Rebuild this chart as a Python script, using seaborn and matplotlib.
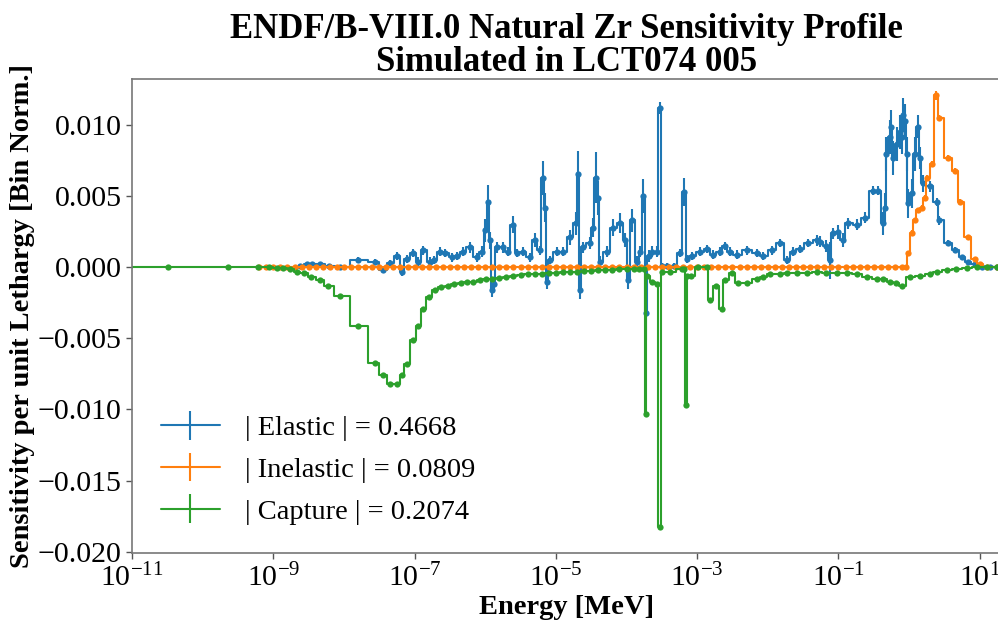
import numpy as np
import matplotlib
matplotlib.use("Agg")
import matplotlib.pyplot as plt
import seaborn as sns

# ---------------- data (energies stored as log10(E / MeV)) ----------------
elastic_log_e = [
    -8.62, -8.53, -8.45, -8.34, -8.21, -8.06, -7.80, -7.56, -7.45, -7.35,
    -7.25, -7.18, -7.11, -7.02, -6.95, -6.88, -6.78, -6.72, -6.64, -6.57,
    -6.47, -6.40, -6.32, -6.22, -6.12, -6.05, -6.00, -5.96, -5.93, -5.91,
    -5.88, -5.84, -5.75, -5.68, -5.61, -5.55, -5.47, -5.37, -5.30, -5.23,
    -5.18, -5.16, -5.13, -5.09, -4.99, -4.90, -4.80, -4.72, -4.69, -4.66,
    -4.62, -4.52, -4.48, -4.43, -4.41, -4.38, -4.28, -4.19, -4.09, -4.02,
    -3.98, -3.92, -3.85, -3.81, -3.76, -3.73, -3.68, -3.64, -3.57, -3.53,
    -3.50, -3.42, -3.33, -3.25, -3.18, -3.15, -3.08, -2.96, -2.86, -2.78,
    -2.68, -2.61, -2.54, -2.44, -2.30, -2.16, -2.07, -1.94, -1.83, -1.73,
    -1.65, -1.55, -1.43, -1.31, -1.26, -1.17, -1.12, -1.08, -1.01, -0.94,
    -0.87, -0.74, -0.63, -0.51, -0.44, -0.37, -0.34, -0.32, -0.27, -0.25,
    -0.23, -0.17, -0.13, -0.10, -0.09, -0.06, -0.03, -0.02, 0.04, 0.08,
    0.12, 0.15, 0.19, 0.29, 0.39, 0.43, 0.55, 0.65, 0.75, 0.83,
    0.93, 1.03, 1.14, 1.24, 1.32]
elastic_sens = [
    0.0001, 0.0002, 0.0002, 0.0002, 0.0001, 0.0000, 0.0005, 0.0004, -0.0002, 0.0003,
    0.0008, -0.0003, 0.0006, 0.0010, 0.0004, 0.0012, 0.0004, 0.0005, 0.0011, 0.0010,
    0.0007, 0.0008, 0.0011, 0.0014, 0.0007, 0.0011, 0.0026, 0.0046, 0.0019, -0.0016,
    -0.0012, 0.0014, 0.0014, 0.0011, 0.0030, 0.0010, 0.0011, 0.0007, 0.0019, 0.0012,
    0.0063, 0.0042, -0.0010, 0.0005, 0.0011, 0.0011, 0.0021, 0.0031, 0.0066, -0.0016,
    0.0014, 0.0017, 0.0028, 0.0063, 0.0049, 0.0004, 0.0011, 0.0028, 0.0031, 0.0019,
    -0.0009, 0.0033, 0.0004, 0.0011, 0.0050, -0.0032, 0.0008, 0.0011, 0.0011, 0.0112,
    0.0001, 0.0001, 0.0001, 0.0010, 0.0053, 0.0006, 0.0008, 0.0011, 0.0013, 0.0009,
    0.0011, 0.0015, 0.0011, 0.0009, 0.0012, 0.0010, 0.0008, 0.0012, 0.0017, 0.0005,
    0.0011, 0.0013, 0.0017, 0.0019, 0.0018, 0.0015, 0.0005, 0.0024, 0.0025, 0.0019,
    0.0031, 0.0030, 0.0035, 0.0054, 0.0054, 0.0031, 0.0042, 0.0080, 0.0092, 0.0099,
    0.0077, 0.0087, 0.0095, 0.0092, 0.0107, 0.0103, 0.0080, 0.0045, 0.0052, 0.0080,
    0.0099, 0.0077, 0.0059, 0.0057, 0.0046, 0.0033, 0.0017, 0.0012, 0.0007, 0.0004,
    0.0002, 0.0000, 0.0000, 0.0000, 0.0000]
elastic_err = [
    0.0001, 0.0001, 0.0001, 0.0001, 0.0001, 0.0001, 0.0002, 0.0002, 0.0002, 0.0002,
    0.0003, 0.0003, 0.0003, 0.0003, 0.0003, 0.0003, 0.0003, 0.0003, 0.0003, 0.0003,
    0.0003, 0.0003, 0.0003, 0.0004, 0.0003, 0.0004, 0.0008, 0.0012, 0.0006, 0.0005,
    0.0005, 0.0004, 0.0004, 0.0003, 0.0006, 0.0003, 0.0003, 0.0003, 0.0005, 0.0003,
    0.0012, 0.0010, 0.0005, 0.0003, 0.0003, 0.0003, 0.0005, 0.0008, 0.0016, 0.0006,
    0.0004, 0.0004, 0.0007, 0.0018, 0.0012, 0.0004, 0.0004, 0.0006, 0.0007, 0.0005,
    0.0006, 0.0008, 0.0004, 0.0004, 0.0012, 0.0019, 0.0004, 0.0004, 0.0004, 0.0004,
    0.0002, 0.0002, 0.0002, 0.0003, 0.0010, 0.0003, 0.0003, 0.0003, 0.0003, 0.0003,
    0.0003, 0.0003, 0.0003, 0.0003, 0.0003, 0.0003, 0.0003, 0.0003, 0.0003, 0.0003,
    0.0003, 0.0003, 0.0003, 0.0004, 0.0004, 0.0004, 0.0013, 0.0004, 0.0005, 0.0005,
    0.0004, 0.0004, 0.0004, 0.0003, 0.0003, 0.0008, 0.0010, 0.0012, 0.0012, 0.0012,
    0.0012, 0.0012, 0.0012, 0.0012, 0.0012, 0.0012, 0.0012, 0.0010, 0.0010, 0.0012,
    0.0008, 0.0008, 0.0006, 0.0004, 0.0003, 0.0003, 0.0002, 0.0002, 0.0001, 0.0001,
    0.0001, 0.0001, 0.0001, 0.0001, 0.0001]

inelastic_log_e = [
    -9.2, -9.1, -9.0, -8.9, -8.8, -8.7, -8.6, -8.5, -8.4, -8.3,
    -8.2, -8.1, -8.0, -7.9, -7.8, -7.7, -7.6, -7.5, -7.4, -7.3,
    -7.2, -7.1, -7.0, -6.9, -6.8, -6.7, -6.6, -6.5, -6.4, -6.3,
    -6.2, -6.1, -6.0, -5.9, -5.8, -5.7, -5.6, -5.5, -5.4, -5.3,
    -5.2, -5.1, -5.0, -4.9, -4.8, -4.7, -4.6, -4.5, -4.4, -4.3,
    -4.2, -4.1, -4.0, -3.9, -3.8, -3.7, -3.6, -3.5, -3.4, -3.3,
    -3.2, -3.1, -3.0, -2.9, -2.8, -2.7, -2.6, -2.5, -2.4, -2.3,
    -2.2, -2.1, -2.0, -1.9, -1.8, -1.7, -1.6, -1.5, -1.4, -1.3,
    -1.2, -1.1, -1.0, -0.9, -0.8, -0.7, -0.6, -0.5, -0.4, -0.3,
    -0.2, -0.1, -0.05,
    -0.02, 0.04, 0.08, 0.12, 0.18, 0.22, 0.26, 0.32, 0.38, 0.43,
    0.55, 0.65, 0.72, 0.83, 0.93, 1.00, 1.10, 1.24, 1.32]
inelastic_sens = [
    0.0, 0.0, 0.0, 0.0, 0.0, 0.0, 0.0, 0.0, 0.0, 0.0,
    0.0, 0.0, 0.0, 0.0, 0.0, 0.0, 0.0, 0.0, 0.0, 0.0,
    0.0, 0.0, 0.0, 0.0, 0.0, 0.0, 0.0, 0.0, 0.0, 0.0,
    0.0, 0.0, 0.0, 0.0, 0.0, 0.0, 0.0, 0.0, 0.0, 0.0,
    0.0, 0.0, 0.0, 0.0, 0.0, 0.0, 0.0, 0.0, 0.0, 0.0,
    0.0, 0.0, 0.0, 0.0, 0.0, 0.0, 0.0, 0.0, 0.0, 0.0,
    0.0, 0.0, 0.0, 0.0, 0.0, 0.0, 0.0, 0.0, 0.0, 0.0,
    0.0, 0.0, 0.0, 0.0, 0.0, 0.0, 0.0, 0.0, 0.0, 0.0,
    0.0, 0.0, 0.0, 0.0, 0.0, 0.0, 0.0, 0.0, 0.0, 0.0,
    0.0, 0.0, 0.0,
    0.0010, 0.0024, 0.0033, 0.0040, 0.0042, 0.0049, 0.0063, 0.0073, 0.0121, 0.0105,
    0.0077, 0.0068, 0.0046, 0.0021, 0.0006, 0.0002, 0.0, 0.0, 0.0]
inelastic_err = [
    0.00002, 0.00002, 0.00002, 0.00002, 0.00002, 0.00002, 0.00002, 0.00002, 0.00002, 0.00002,
    0.00002, 0.00002, 0.00002, 0.00002, 0.00002, 0.00002, 0.00002, 0.00002, 0.00002, 0.00002,
    0.00002, 0.00002, 0.00002, 0.00002, 0.00002, 0.00002, 0.00002, 0.00002, 0.00002, 0.00002,
    0.00002, 0.00002, 0.00002, 0.00002, 0.00002, 0.00002, 0.00002, 0.00002, 0.00002, 0.00002,
    0.00002, 0.00002, 0.00002, 0.00002, 0.00002, 0.00002, 0.00002, 0.00002, 0.00002, 0.00002,
    0.00002, 0.00002, 0.00002, 0.00002, 0.00002, 0.00002, 0.00002, 0.00002, 0.00002, 0.00002,
    0.00002, 0.00002, 0.00002, 0.00002, 0.00002, 0.00002, 0.00002, 0.00002, 0.00002, 0.00002,
    0.00002, 0.00002, 0.00002, 0.00002, 0.00002, 0.00002, 0.00002, 0.00002, 0.00002, 0.00002,
    0.00002, 0.00002, 0.00002, 0.00002, 0.00002, 0.00002, 0.00002, 0.00002, 0.00002, 0.00002,
    0.00002, 0.00002, 0.00002,
    0.0001, 0.0002, 0.0002, 0.0002, 0.0002, 0.0002, 0.0002, 0.0002, 0.0003, 0.0002,
    0.0002, 0.0002, 0.0002, 0.0001, 0.0001, 0.0001, 0.0, 0.0, 0.0]

capture_log_e = [
    -11.05, -10.49, -9.64, -9.22, -9.06, -8.95, -8.86, -8.76, -8.67, -8.57,
    -8.46, -8.34, -8.23, -8.06, -7.80, -7.56, -7.45, -7.35, -7.25, -7.18,
    -7.11, -7.02, -6.95, -6.88, -6.80, -6.71, -6.62, -6.53, -6.44, -6.35,
    -6.26, -6.17, -6.08, -5.99, -5.90, -5.80, -5.70, -5.60, -5.50, -5.40,
    -5.30, -5.20, -5.10, -5.00, -4.90, -4.80, -4.70, -4.60, -4.50, -4.40,
    -4.30, -4.20, -4.10, -4.00, -3.90, -3.82, -3.75, -3.73, -3.71, -3.64,
    -3.57, -3.53, -3.50, -3.39, -3.22, -3.18, -3.16, -3.14, -3.09, -2.99,
    -2.86, -2.82, -2.74, -2.65, -2.61, -2.50, -2.42, -2.30, -2.16, -2.07,
    -1.97, -1.83, -1.73, -1.59, -1.45, -1.31, -1.17, -1.02, -0.88, -0.74,
    -0.60, -0.46, -0.37, -0.27, -0.18, -0.10, 0.01, 0.15, 0.29, 0.39,
    0.53, 0.67, 0.82, 0.96, 1.10, 1.24, 1.32]
capture_sens = [
    0.0, 0.0, 0.0, 0.0, 0.0, -0.00002, -0.00005, -0.00014, -0.00035, -0.0004,
    -0.0007, -0.0009, -0.0013, -0.0020, -0.0041, -0.0067, -0.0076, -0.0082, -0.0082, -0.0076,
    -0.0068, -0.0051, -0.0041, -0.0029, -0.0021, -0.0016, -0.0014, -0.0013, -0.0012, -0.0011,
    -0.00105, -0.0010, -0.0009, -0.00085, -0.0008, -0.00075, -0.0007, -0.00062, -0.00056, -0.0005,
    -0.00047, -0.00044, -0.0004, -0.00037, -0.00035, -0.00032, -0.0003, -0.00027, -0.00024, -0.0002,
    -0.00018, -0.00016, -0.00014, -0.00012, -0.00011, -0.0001, -0.0001, -0.0103, -0.0006, -0.0010,
    -0.0012, -0.0183, -0.0003, -0.0003, -0.0001, -0.0001, -0.0097, -0.0006, -0.0006, 0.0,
    0.0, -0.0023, -0.0013, -0.0029, -0.0009, -0.0004, -0.0011, -0.0011, -0.0008, -0.0007,
    -0.0005, -0.0005, -0.0004, -0.0004, -0.0004, -0.0003, -0.0004, -0.0004, -0.0004, -0.0005,
    -0.0007, -0.0008, -0.0008, -0.0010, -0.0011, -0.0013, -0.0007, -0.0006, -0.0005, -0.0003,
    -0.0002, -0.0001, -0.00005, 0.0, 0.0, 0.0, 0.0]
capture_err = [
    0.0, 0.0, 0.0, 0.0, 0.0, 0.00002, 0.00002, 0.00002, 0.00002, 0.00002,
    0.00003, 0.00003, 0.00003, 0.00003, 0.00004, 0.00004, 0.00004, 0.00004, 0.00004, 0.00004,
    0.00004, 0.00004, 0.00004, 0.00003, 0.00003, 0.00003, 0.00003, 0.00003, 0.00003, 0.00003,
    0.00003, 0.00003, 0.00003, 0.00003, 0.00003, 0.00003, 0.00003, 0.00003, 0.00003, 0.00003,
    0.00003, 0.00003, 0.00003, 0.00003, 0.00003, 0.00003, 0.00003, 0.00003, 0.00003, 0.00003,
    0.00003, 0.00003, 0.00003, 0.00003, 0.00003, 0.00003, 0.00003, 0.0001, 0.00005, 0.00005,
    0.00005, 0.0001, 0.00003, 0.00003, 0.00003, 0.00003, 0.0001, 0.00003, 0.00003, 0.00003,
    0.00003, 0.00005, 0.00005, 0.00005, 0.00003, 0.00003, 0.00003, 0.00003, 0.00003, 0.00003,
    0.00003, 0.00003, 0.00003, 0.00003, 0.00003, 0.00003, 0.00003, 0.00003, 0.00003, 0.00003,
    0.00003, 0.00003, 0.00003, 0.00003, 0.00003, 0.00003, 0.00003, 0.00003, 0.00003, 0.00003,
    0.00002, 0.00002, 0.00002, 0.0, 0.0, 0.0, 0.0]

series_labels = ["| Elastic | = 0.4668", "| Inelastic | = 0.0809", "| Capture | = 0.2074"]
series_colors = ["#1f77b4", "#ff7f0e", "#2ca02c"]
x_ticks = [1e-11, 1e-9, 1e-7, 1e-5, 1e-3, 1e-1, 1e1]
y_ticks = [-0.020, -0.015, -0.010, -0.005, 0.000, 0.005, 0.010]

# ---------------- styling ----------------
sns.set_style("ticks")
plt.rcParams["font.family"] = ["Liberation Serif", "DejaVu Serif"]
plt.rcParams["mathtext.fontset"] = "stix"
plt.rcParams["axes.edgecolor"] = "#777777"
plt.rcParams["axes.linewidth"] = 1.2
for key in ["text.color", "axes.labelcolor", "xtick.labelcolor", "ytick.labelcolor"]:
    plt.rcParams[key] = "black"

fig = plt.figure(figsize=(9.98, 6.25), dpi=100)
ax = fig.add_axes([0.1323, 0.1152, 0.8707, 0.7584])
ax.set_xscale("log")

series = [
    (elastic_log_e, elastic_sens, elastic_err),
    (inelastic_log_e, inelastic_sens, inelastic_err),
    (capture_log_e, capture_sens, capture_err),
]

for (loge, vals, errs), col, lab in zip(series, series_colors, series_labels):
    energy = 10.0 ** np.asarray(loge)
    vals = np.asarray(vals)
    errs = np.asarray(errs)
    sns.lineplot(x=energy, y=vals, ax=ax, color=col, estimator=None, sort=False,
                 drawstyle="steps-mid", marker="o", markersize=4.5,
                 markeredgewidth=0, linewidth=1.5, legend=False)
    ax.errorbar(energy, vals, yerr=errs, fmt="none", ecolor=col,
                elinewidth=1.5, capsize=0)
    # legend proxy (line with vertical error bar)
    ax.errorbar([np.nan], [np.nan], yerr=[np.nan], color=col, elinewidth=1.5,
                linewidth=1.5, label=lab)

ax.set_xlim(1e-11, 20)
ax.set_ylim(-0.0201, 0.01325)
ax.set_xticks(x_ticks)
ax.xaxis.set_minor_locator(matplotlib.ticker.NullLocator())
ax.set_yticks(y_ticks)
ax.yaxis.set_major_formatter(
    matplotlib.ticker.FuncFormatter(lambda v, p: f"{v:.3f}".replace("-", "\u2212")))
ax.tick_params(axis="both", labelsize=21.5, length=4, width=1, color="#555555",
               labelcolor="black")

ax.set_xlabel("Energy [MeV]", fontsize=20.5, fontweight="bold", labelpad=2,
              color="black")
ax.set_ylabel("Sensitivity per unit Lethargy [Bin Norm.]", fontsize=20.5,
              fontweight="bold", labelpad=2, color="black")
ax.set_title("ENDF/B-VIII.0 Natural Zr Sensitivity Profile\nSimulated in LCT074 005",
             fontsize=25, fontweight="bold", pad=6, linespacing=1.0, color="black")

ax.legend(loc="lower left", frameon=False, fontsize=20.5, handlelength=2.1,
          handletextpad=0.85, labelspacing=0.55, borderaxespad=0.6,
          labelcolor="black")

fig.savefig("out.png", dpi=100)
